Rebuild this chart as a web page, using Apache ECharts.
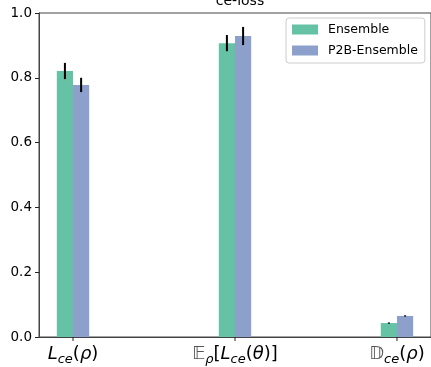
<!DOCTYPE html>
<html>
<head>
<meta charset="utf-8">
<script src="https://cdn.jsdelivr.net/npm/echarts@6/dist/echarts.min.js"></script>
<style>
  html, body { margin: 0; padding: 0; background: #fff; }
  #chart { width: 431px; height: 367px; }
</style>
</head>
<body>
<div id="chart"></div>
<script>
// categories (rich-text labels) and values
var categories = [
    "{it|L}{sub|ce}{n|(}{it|ρ}{n|)}",
    "{bb|𝔼}{sub|ρ}{n|[}{it|L}{sub|ce}{n|(}{it|θ}{n|)]}",
    "{bb|𝔻}{sub|ce}{n|(}{it|ρ}{n|)}"
];
var tickPos = [0, 1, 2];
var ensembleMean = [0.821, 0.907, 0.043];
var ensembleErr = [0.025, 0.025, 0.002];
var p2bMean = [0.778, 0.929, 0.065];
var p2bErr = [0.022, 0.028, 0.002];

var barW = 0.1;

function barSeries(name, means, errs, shift, color) {
    var data = means.map(function (m, i) { return [i, m, errs[i]]; });
    return {
        name: name,
        type: "custom",
        itemStyle: { color: color },
        encode: { x: 0, y: 1 },
        data: data,
        renderItem: function (params, api) {
            var x = api.value(0) + shift;
            var y = api.value(1);
            var e = api.value(2);
            var p0 = api.coord([x - barW / 2, y]);
            var p1 = api.coord([x + barW / 2, 0]);
            var e0 = api.coord([x, y - e]);
            var e1 = api.coord([x, y + e]);
            return {
                type: "group",
                children: [
                    { type: "rect", shape: { x: p0[0], y: p0[1], width: p1[0] - p0[0], height: p1[1] - p0[1] },
                      style: { fill: color } },
                    { type: "line", shape: { x1: e0[0], y1: e0[1], x2: e1[0], y2: e1[1] },
                      style: { stroke: "#000", lineWidth: 2 } }
                ]
            };
        }
    };
}

// x ticks under each category (the axis' own ticks count from min)
var tickSeries = {
    name: "ticks",
    type: "custom",
    silent: true,
    clip: false,
    encode: { x: 0, y: 1 },
    data: tickPos.map(function (v) { return [v, 0]; }),
    renderItem: function (params, api) {
        var p = api.coord([api.value(0), 0]);
        return { type: "line", shape: { x1: p[0], y1: p[1], x2: p[0], y2: p[1] + 4 },
                 style: { stroke: "#222", lineWidth: 1 } };
    }
};

var chart = echarts.init(document.getElementById("chart"));
var option = {
    animation: false,
    textStyle: { fontFamily: "DejaVu Sans" },
    title: {
        text: "ce-loss",
        left: 235, top: -11,
        textAlign: "center",
        textStyle: { fontSize: 14, fontWeight: "normal", color: "#000", fontFamily: "DejaVu Sans" }
    },
    grid: {
        left: 39, right: -1, top: 13, bottom: 30,
        show: true, borderColor: "#444", borderWidth: 1
    },
    legend: {
        left: 286, top: 18,
        orient: "vertical",
        itemWidth: 26, itemHeight: 10, itemGap: 8,
        padding: [5, 7, 6, 6],
        borderColor: "#ccc", borderWidth: 1, borderRadius: 3,
        backgroundColor: "#fff",
        textStyle: { fontSize: 12.5, color: "#000", fontFamily: "DejaVu Sans", padding: [0, 0, 0, 5] },
        data: [
            { name: "Ensemble", icon: "rect" },
            { name: "P2B-Ensemble", icon: "rect" }
        ]
    },
    xAxis: {
        type: "value",
        min: -0.21, max: 2.21,
        splitLine: { show: false },
        axisLine: { onZero: false, lineStyle: { color: "#444" } },
        axisTick: { show: false },
        axisLabel: {
            customValues: tickPos,
            margin: 6,
            color: "#000",
            formatter: function (v) { return categories[Math.round(v)]; },
            rich: {
                it: { fontSize: 18, fontStyle: "italic", fontFamily: "DejaVu Sans", color: "#000" },
                n: { fontSize: 18, fontFamily: "DejaVu Sans", color: "#000" },
                bb: { fontSize: 18, fontFamily: "DejaVu Sans", color: "#555" },
                sub: { fontSize: 13, fontStyle: "italic", fontFamily: "DejaVu Sans", color: "#000",
                       verticalAlign: "bottom", padding: [10, 0, 0, 0] }
            }
        }
    },
    yAxis: {
        type: "value",
        min: 0, max: 1, interval: 0.2,
        splitLine: { show: false },
        axisLine: { show: true, onZero: false, lineStyle: { color: "#444" } },
        axisTick: { show: true, length: 4, lineStyle: { color: "#222" } },
        axisLabel: {
            fontSize: 13.5, color: "#000", margin: 7,
            formatter: function (v) { return v.toFixed(1); }
        }
    },
    series: [
        barSeries("Ensemble", ensembleMean, ensembleErr, -barW / 2, "#66c2a5"),
        barSeries("P2B-Ensemble", p2bMean, p2bErr, barW / 2, "#8da0cb"),
        tickSeries
    ]
};
chart.setOption(option);
</script>
</body>
</html>
